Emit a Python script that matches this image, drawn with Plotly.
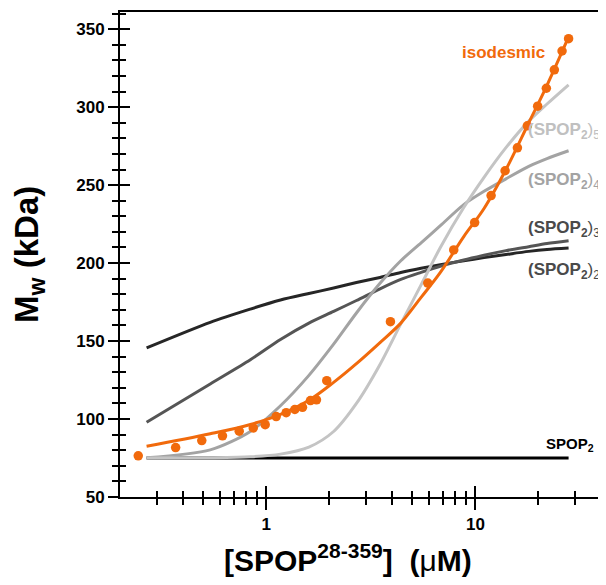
import numpy as np
import plotly.graph_objects as go

# ---- data ----
conc_data = [0.2445, 0.369, 0.492, 0.618, 0.743, 0.867, 0.989, 1.116, 1.246, 1.370,
             1.491, 1.628, 1.739, 1.948, 3.925, 5.92, 7.88, 9.92, 11.89, 13.87,
             15.88, 17.72, 19.85, 21.84, 23.85, 25.96, 27.9]
mw_data = [76.4, 81.7, 86.2, 89.2, 92.2, 94.3, 96.4, 101.6, 104.1, 106.1,
           107.5, 111.8, 112.3, 124.6, 162.4, 187.2, 208.4, 226.0, 243.3, 259.2,
           273.9, 288.0, 300.6, 312.1, 323.9, 336.0, 343.9]

conc_fit = [0.268, 0.54, 0.84, 1.17, 1.6, 2.1, 2.7, 3.5, 4.4, 5.5, 6.8, 8.8, 11, 14, 18, 22, 27.9]
fit_isodesmic = [82.5, 90.5, 96.5, 103, 112, 123.5, 135.5, 149, 161.5, 178, 194, 217, 235, 260, 290, 314, 345]
fit_dimer2 = [145.6, 162, 170.5, 176.3, 180.5, 184, 187.5, 190.8, 194, 196.7, 199, 201.5, 203.5, 205.5, 207.5, 208.7, 209.6]
fit_dimer3 = [97.9, 122.5, 138, 151, 161.5, 169, 176, 183.5, 189.5, 194, 198, 202, 205, 208, 210.5, 212.5, 214.3]
fit_dimer4 = [75.1, 80.2, 92, 108.5, 128, 148, 168, 187, 201.5, 213, 224, 237.5, 246, 254, 262, 267, 272]
fit_dimer5 = [75, 75.2, 75.8, 77.5, 82, 92, 110, 135, 161, 186, 210, 235.6, 255, 274, 291, 302, 314.3]
fit_monomer = [75] * len(conc_fit)

x_major = [1, 10]
x_minor = [0.3, 0.4, 0.5, 0.6, 0.7, 0.8, 0.9, 2, 3, 4, 5, 6, 7, 8, 9, 20, 30]
y_major = [50, 100, 150, 200, 250, 300, 350]

ORANGE = "#f16a0c"
FONT = "Liberation Sans, Arial, sans-serif"

fig = go.Figure()

curves = [
    (fit_monomer, "#000000"),
    (fit_dimer2, "#262626"),
    (fit_dimer3, "#555555"),
    (fit_dimer4, "#a3a3a3"),
    (fit_dimer5, "#c4c4c4"),
]
for ys, col in curves:
    fig.add_trace(go.Scatter(x=conc_fit, y=ys, mode="lines",
                             line=dict(color=col, width=3, shape="spline", smoothing=0.8),
                             showlegend=False))

fig.add_trace(go.Scatter(x=conc_fit, y=fit_isodesmic, mode="lines",
                         line=dict(color=ORANGE, width=3, shape="spline"), showlegend=False))
fig.add_trace(go.Scatter(x=conc_data, y=mw_data, mode="markers",
                         marker=dict(color=ORANGE, size=9.5), showlegend=False))
# dummy trace to create overlay axes (crossing ticks)
fig.add_trace(go.Scatter(x=[1], y=[100], xaxis="x2", yaxis="y2", mode="markers",
                         marker=dict(opacity=0), showlegend=False, hoverinfo="skip"))

xr = [np.log10(0.2), np.log10(40.3)]
yr = [50, 361]
tickfont = dict(family=FONT, size=17, color="black", weight="bold")

# page body has an 8px margin, so the figure is sized/offset to compensate
fig.update_layout(
    width=598, height=577,
    margin=dict(l=112, r=4, t=4, b=88, autoexpand=False),
    plot_bgcolor="white", paper_bgcolor="white",
    xaxis=dict(type="log", range=xr, tickmode="array", tickvals=x_major,
               ticktext=["1", "10"], ticks="outside", ticklen=11, tickwidth=2,
               tickcolor="black", showline=True, linecolor="black", linewidth=2,
               mirror=True, showgrid=False, zeroline=False, tickfont=tickfont,
               minor=dict(tickmode="array", tickvals=x_minor, ticks="outside",
                          ticklen=6, tickwidth=2, tickcolor="black", showgrid=False)),
    yaxis=dict(range=yr, tickmode="array", tickvals=y_major, ticks="outside",
               ticklen=10, tickwidth=2, tickcolor="black", showline=True,
               linecolor="black", linewidth=2, mirror=True, showgrid=False,
               zeroline=False, tickfont=tickfont,
               minor=dict(dtick=10, tick0=50, ticks="outside", ticklen=6,
                          tickwidth=2, tickcolor="black", showgrid=False)),
    xaxis2=dict(type="log", range=xr, overlaying="x", anchor="y", side="bottom",
                tickmode="array", tickvals=x_major, ticks="inside", ticklen=11,
                tickwidth=2, tickcolor="black", showticklabels=False,
                showline=False, showgrid=False, zeroline=False,
                minor=dict(tickmode="array", tickvals=x_minor, ticks="inside",
                           ticklen=6, tickwidth=2, tickcolor="black", showgrid=False)),
    yaxis2=dict(range=yr, overlaying="y", anchor="x", side="left",
                tickmode="array", tickvals=y_major, ticks="inside", ticklen=10,
                tickwidth=2, tickcolor="black", showticklabels=False,
                showline=False, showgrid=False, zeroline=False,
                minor=dict(dtick=10, tick0=50, ticks="inside", ticklen=6,
                           tickwidth=2, tickcolor="black", showgrid=False)),
)

def label(text, y, color, size=17, x=1.0, xanchor="right", xref="paper"):
    fig.add_annotation(x=x, y=y, xref=xref, yref="y", text=text, showarrow=False,
                       xanchor=xanchor, yanchor="middle",
                       font=dict(family=FONT, size=size, color=color))

label("<b>isodesmic</b>", 334.8, ORANGE, x=np.log10(13.6), xanchor="center", xref="x")
label("<b>(SPOP<sub>2</sub></b>)<sub>5</sub>", 284.8, "#c0c0c0")
label("<b>(SPOP<sub>2</sub></b>)<sub>4</sub>", 252.8, "#a3a3a3")
label("<b>(SPOP<sub>2</sub></b>)<sub>3</sub>", 222, "#4a4a4a")
label("<b>(SPOP<sub>2</sub></b>)<sub>2</sub>", 195.1, "#4a4a4a")
label("<b>SPOP<sub>2</sub></b>", 83.6, "black", size=15, x=0.987)

fig.add_annotation(x=-0.19, y=0.5, xref="paper", yref="paper", textangle=-90,
                   text="<b>M<sub>w</sub> (kDa)</b>", showarrow=False,
                   xanchor="center", yanchor="middle",
                   font=dict(family=FONT, size=33, color="black"))
fig.add_annotation(x=0.473, y=-0.125, xref="paper", yref="paper",
                   text="<b>[SPOP<sup>28-359</sup>]&nbsp;&nbsp;(</b>\u03bc<b>M)</b>",
                   showarrow=False, xanchor="center", yanchor="middle",
                   font=dict(family=FONT, size=30, color="black"))

fig.write_html("out.html")
